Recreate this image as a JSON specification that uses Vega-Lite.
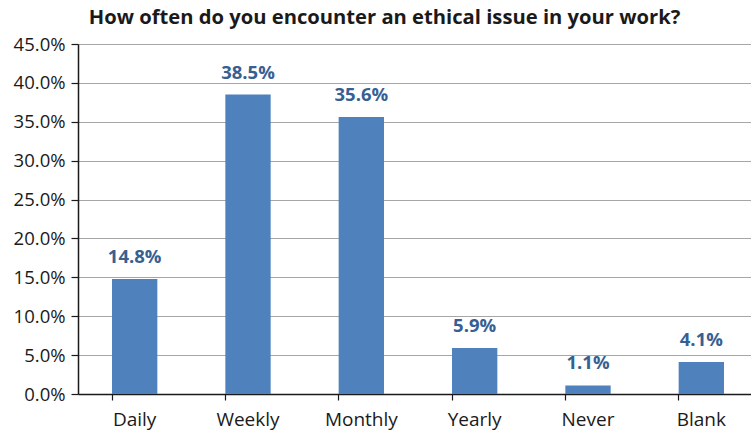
{
  "$schema": "https://vega.github.io/schema/vega-lite/v6.json",
  "width": 673,
  "height": 350,
  "autosize": {"type": "none"},
  "padding": {"left": 78, "top": 44, "right": 0, "bottom": 37},
  "background": "white",
  "title": {
    "text": "How often do you encounter an ethical issue in your work?",
    "font": "Open Sans",
    "fontSize": 20.2,
    "fontWeight": "bold",
    "color": "#1a1a1a",
    "anchor": "middle",
    "offset": 7,
    "dx": -30
  },
  "data": {
    "values": [
      {"category": "Daily", "value": 0.148},
      {"category": "Weekly", "value": 0.385},
      {"category": "Monthly", "value": 0.356},
      {"category": "Yearly", "value": 0.059},
      {"category": "Never", "value": 0.011},
      {"category": "Blank", "value": 0.041}
    ]
  },
  "encoding": {
    "x": {
      "field": "category",
      "type": "nominal",
      "sort": null,
      "scale": {"range": [0, 680], "paddingInner": 0.6, "paddingOuter": 0.3},
      "axis": {
        "title": null,
        "labelAngle": 0,
        "labelFont": "Open Sans",
        "labelFontSize": 19,
        "labelColor": "#1a1a1a",
        "labelPadding": 10,
        "bandPosition": 0,
        "tickSize": 6,
        "tickColor": "#1a1a1a",
        "domainColor": "#1a1a1a",
        "domainWidth": 1.5,
        "tickWidth": 1.2,
        "grid": false
      }
    },
    "y": {
      "field": "value",
      "type": "quantitative",
      "scale": {"domain": [0, 0.45], "nice": false},
      "axis": {
        "title": null,
        "format": ".1%",
        "values": [0, 0.05, 0.1, 0.15, 0.2, 0.25, 0.3, 0.35, 0.4, 0.45],
        "labelFont": "Open Sans",
        "labelFontSize": 18.5,
        "labelColor": "#1a1a1a",
        "labelPadding": 6,
        "tickSize": 7,
        "tickWidth": 1.2,
        "tickColor": "#1a1a1a",
        "domainColor": "#1a1a1a",
        "domainWidth": 1.5,
        "grid": true,
        "gridColor": "#A6A6A6",
        "gridWidth": 1.2
      }
    }
  },
  "layer": [
    {"mark": {"type": "bar", "color": "#4F81BD"}},
    {
      "mark": {
        "type": "text",
        "baseline": "alphabetic",
        "dy": -16,
        "font": "Open Sans",
        "fontSize": 18.5,
        "fontWeight": "bold",
        "color": "#376092"
      },
      "encoding": {"text": {"field": "value", "type": "quantitative", "format": ".1%"}}
    }
  ],
  "config": {"view": {"stroke": null}}
}
